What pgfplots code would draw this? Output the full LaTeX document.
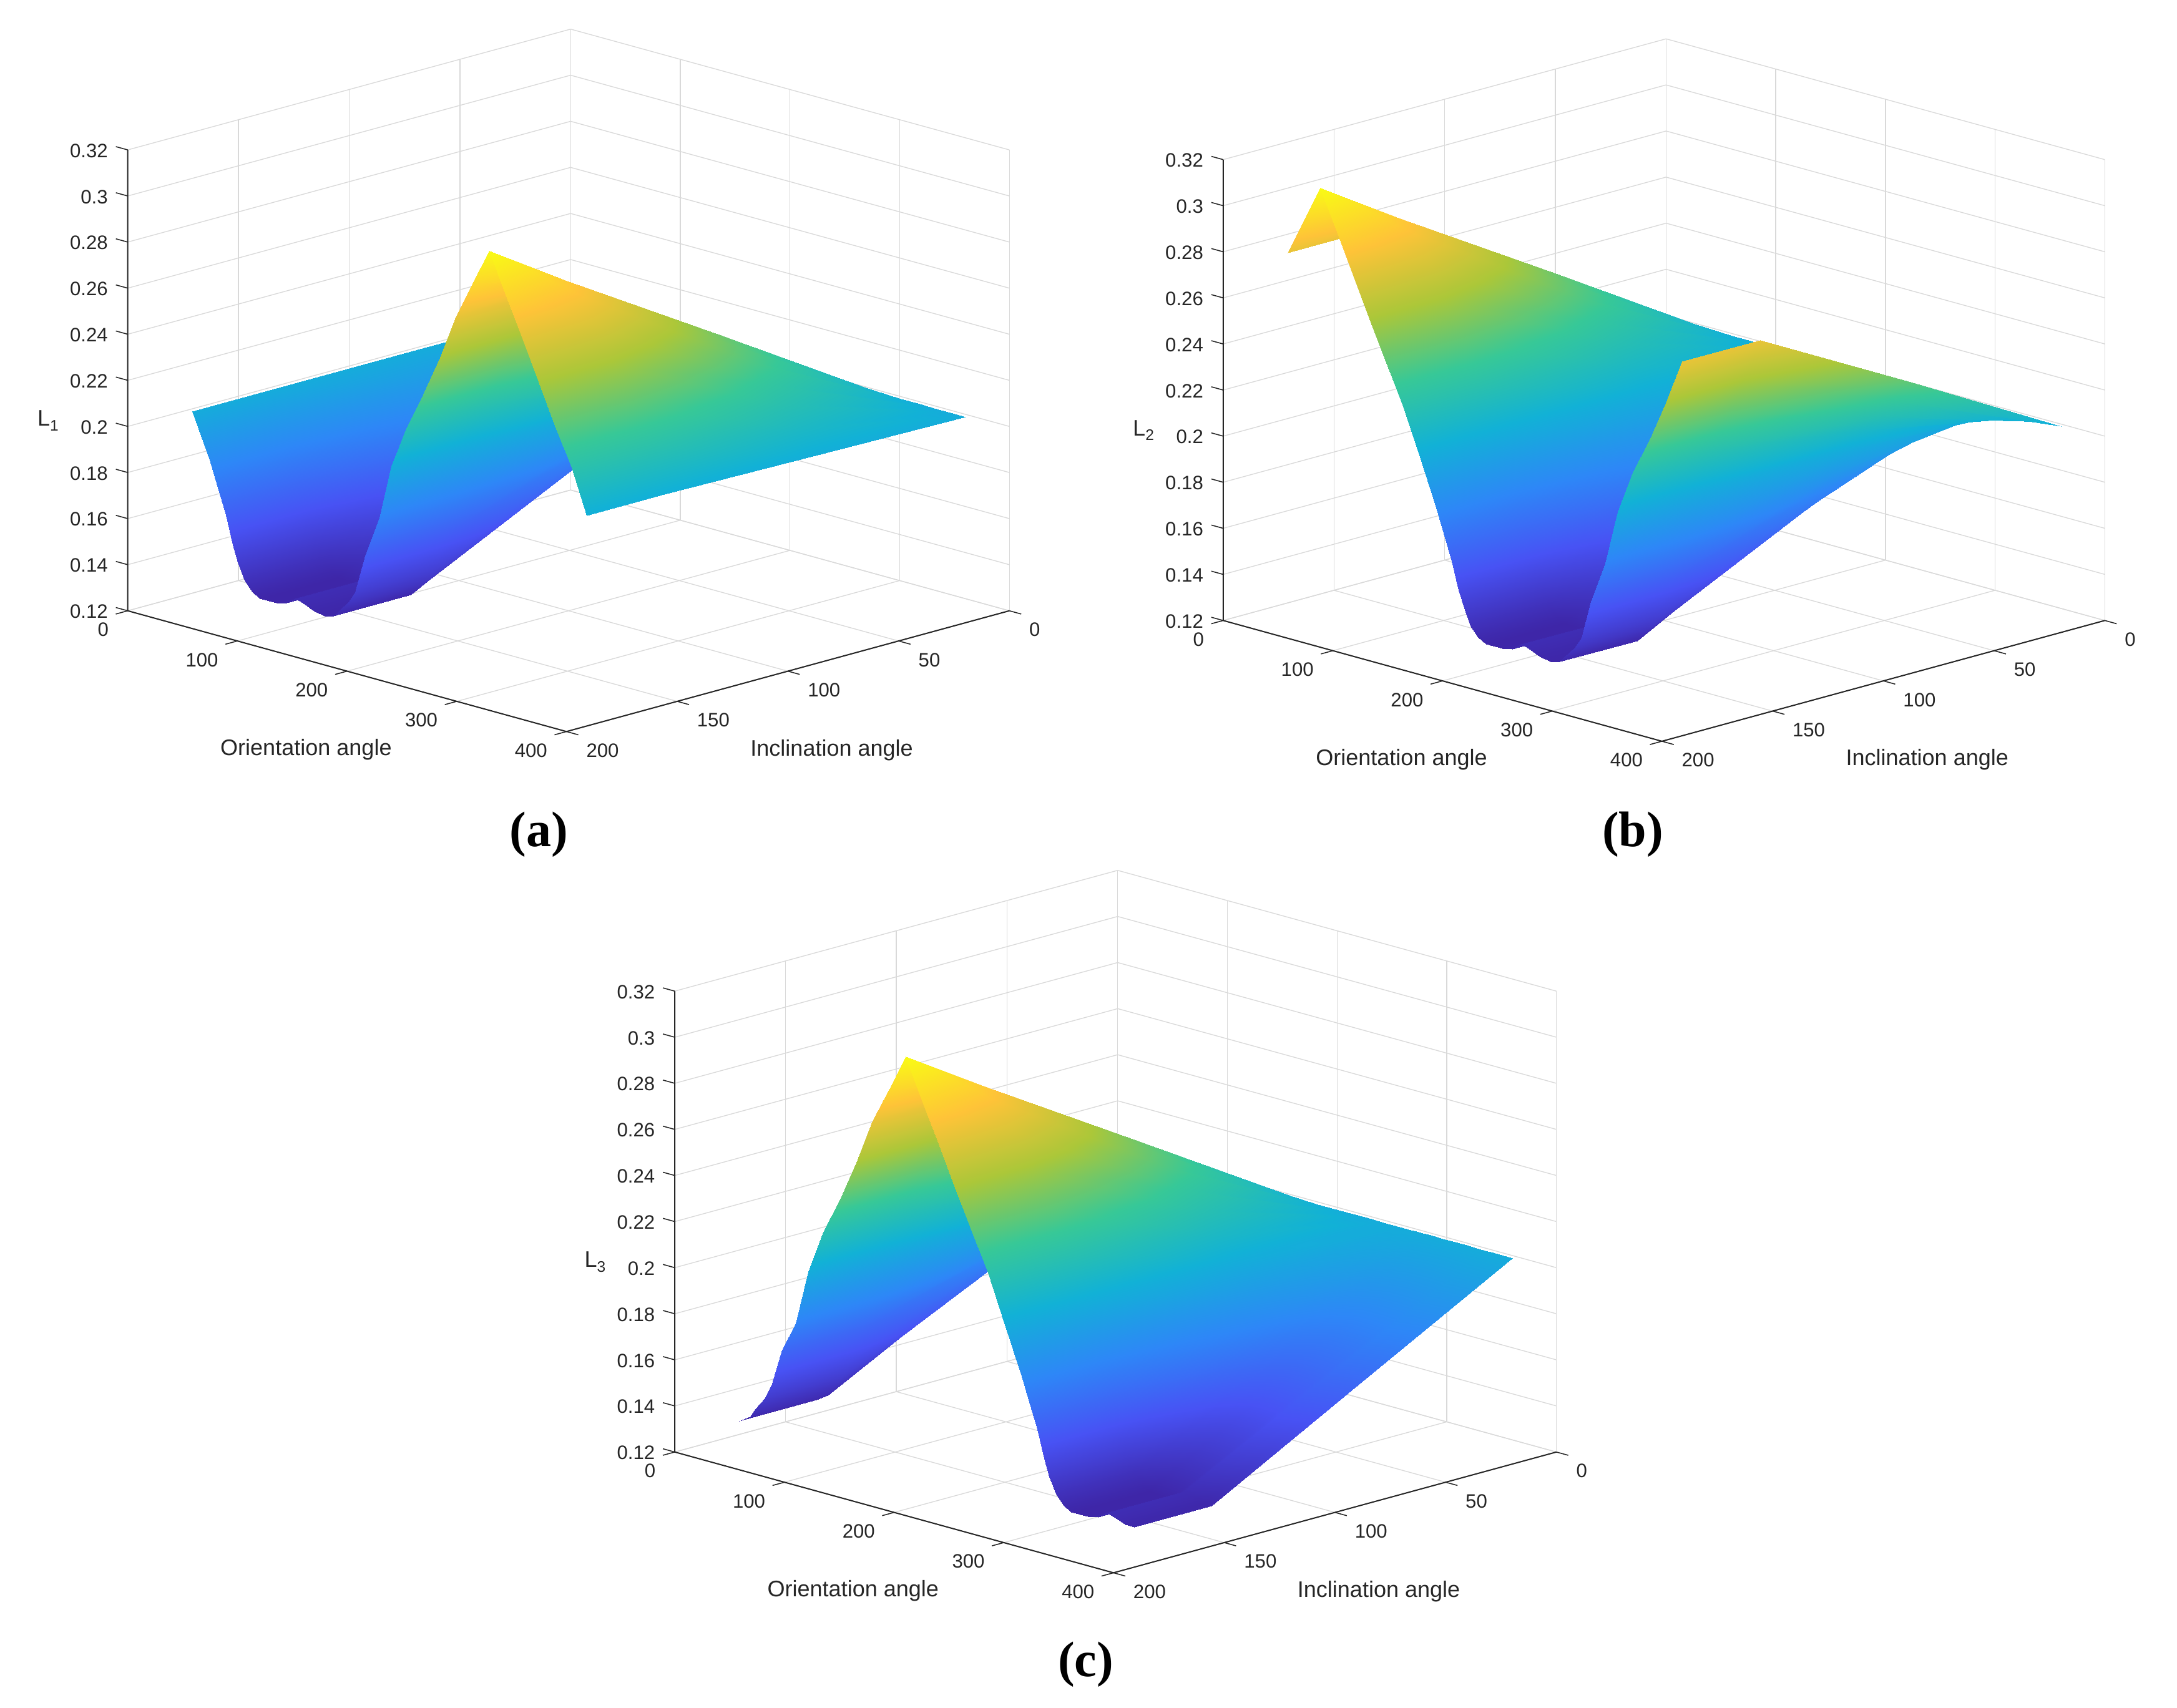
\documentclass[border=0pt]{standalone}
\usepackage{pgfplots}
\usepackage{fontspec}
\setmainfont{Liberation Sans}
\newfontfamily\capfont{Liberation Serif}
\pgfplotsset{compat=1.18}
\definecolor{axdark}{rgb}{0.15,0.15,0.15}
\pgfplotsset{
  panel/.style={
    x={(0.395pt,-0.10875pt)}, y={(0.7975pt,0.2175pt)}, z={(0pt,830pt)},
    y dir=reverse,
    xmin=0,xmax=400,ymin=0,ymax=200,zmin=0.12,zmax=0.32,
    clip=false,
    anchor=south west,
    axis line style={draw=none},
    grid=major,
    grid style={draw=black!15,line width=0.3pt},
    tick style={draw=none},
    major tick length=3pt,
    tick align=outside,
    tick pos=left,
    ticklabel style={font=\fontsize{7}{8}\selectfont,text=axdark},
    xticklabel style={anchor=north east,xshift=-0.5pt,yshift=0pt},
    yticklabel style={anchor=north west,xshift=0.75pt,yshift=0pt},
    zticklabel style={xshift=-0.75pt,yshift=0.5pt},
    label style={font=\fontsize{8.1}{9}\selectfont,text=axdark},
    xtick={0,100,200,300,400},xticklabels={0,100,200,300,400},
    ytick={0,50,100,150,200},yticklabels={0,50,100,150,200},
    ztick={0.12,0.14,0.16,0.18,0.2,0.22,0.24,0.26,0.28,0.3,0.32},
    zticklabels={0.12,0.14,0.16,0.18,0.2,0.22,0.24,0.26,0.28,0.3,0.32},
    xlabel={Orientation angle},ylabel={Inclination angle},
    xlabel style={at={(axis cs:312,274,0.12)},anchor=center,sloped=false,rotate=0},
    ylabel style={at={(axis cs:551,155,0.12)},anchor=center,sloped=false,rotate=0},
    zlabel style={at={(axis cs:0,236,0.212)},anchor=center,rotate=-90,sloped=false},
    colormap={parula}{
      rgb=(0.2422,0.1504,0.6603) rgb=(0.2810,0.3228,0.9579)
      rgb=(0.1786,0.5289,0.9682) rgb=(0.0689,0.6948,0.8394)
      rgb=(0.2161,0.7843,0.5923) rgb=(0.6720,0.7793,0.2227)
      rgb=(0.9970,0.7659,0.2199) rgb=(0.9769,0.9839,0.0805)},
  },
  % data run towards the viewer in x and y, so plain order paints correctly
  surfstyle/.style={surf,shader=interp,z buffer=none,mesh/ordering=y varies,mesh/rows=4,mesh/cols=34},
}
% front axis lines and MATLAB style ticks
\newcommand{\frontaxes}{
  \draw[axdark,line width=0.45pt] (axis cs:0,200,0.32)--(axis cs:0,200,0.12)--(axis cs:400,200,0.12)--(axis cs:400,0,0.12);
  \pgfplotsinvokeforeach{0,100,200,300,400}{
    \draw[axdark,line width=0.35pt] (axis cs:##1,200,0.12)--(axis cs:##1,205.4,0.12);
  }
  \pgfplotsinvokeforeach{0,50,100,150,200}{
    \draw[axdark,line width=0.35pt] (axis cs:400,##1,0.12)--(axis cs:410.8,##1,0.12);
  }
  \pgfplotsinvokeforeach{0.12,0.14,0.16,0.18,0.2,0.22,0.24,0.26,0.28,0.3,0.32}{
    \draw[axdark,line width=0.35pt] (axis cs:0,200,##1)--(axis cs:-10.8,200,##1);
  }
}
\newcommand{\sublab}[1]{L\raisebox{-0.4ex}{\fontsize{5.5}{6}\selectfont #1}}
\begin{document}
\begin{tikzpicture}
\path[use as bounding box] (0pt,0pt) rectangle (784pt,615pt);

\begin{axis}[panel,at={(46pt,351.5pt)},zlabel={\sublab{1}}]
\addplot3[surfstyle] coordinates {
(0,0,.199) (0,68,.199) (0,136,.199) (0,171,.199)
(16,0,.199) (16,68,.19) (16,136,.18) (16,171,.18)
(24,0,.199) (24,68,.184) (24,136,.168) (24,171,.168)
(31,0,.199) (31,68,.179) (31,136,.158) (31,171,.158)
(37,0,.199) (37,68,.173) (37,136,.146) (37,171,.146)
(42,0,.199) (42,68,.169) (42,136,.139) (42,171,.139)
(48,0,.199) (48,68,.166) (48,136,.132) (48,171,.132)
(55,0,.199) (55,68,.164) (55,136,.128) (55,171,.128)
(62,0,.199) (62,68,.163) (62,136,.126) (62,171,.126)
(77,0,.199) (77,68,.163) (77,136,.126) (77,171,.126)
(86,0,.199) (86,68,.163) (86,136,.127) (86,171,.127)
(94,0,.199) (94,68,.165) (94,136,.13) (94,171,.13)
(101,0,.199) (101,68,.164) (101,136,.129) (101,171,.129)
(111,0,.199) (111,68,.163) (111,136,.127) (111,171,.127)
(122,0,.199) (122,68,.163) (122,136,.126) (122,171,.126)
(129,0,.199) (129,68,.163) (129,136,.127) (129,171,.127)
(134,0,.199) (134,68,.165) (134,136,.13) (134,171,.13)
(143,0,.199) (143,68,.167) (143,136,.135) (143,171,.135)
(149,0,.199) (149,68,.17) (149,136,.14) (149,171,.14)
(158,0,.199) (158,68,.178) (158,136,.157) (158,171,.157)
(171,0,.199) (171,68,.187) (171,136,.175) (171,171,.175)
(182,0,.199) (182,68,.199) (182,136,.199) (182,171,.199)
(196,0,.199) (196,68,.209) (196,136,.218) (196,171,.218)
(211,0,.199) (211,68,.217) (211,136,.234) (211,171,.234)
(226,0,.199) (226,68,.226) (226,136,.252) (226,171,.252)
(241,0,.199) (241,68,.236) (241,136,.272) (241,171,.272)
(256,0,.199) (256,68,.24) (256,136,.28) (256,171,.288)
(271,0,.199) (271,68,.241) (271,136,.282) (271,171,.304)
(286,0,.199) (286,68,.238) (286,136,.277) (286,171,.287)
(301,0,.199) (301,68,.233) (301,136,.266) (301,171,.27)
(316,0,.199) (316,68,.225) (316,136,.251) (316,171,.253)
(331,0,.199) (331,68,.218) (331,136,.236) (331,171,.236)
(346,0,.199) (346,68,.21) (346,136,.22) (346,171,.22)
(360,0,.199) (360,68,.2) (360,136,.201) (360,171,.201)
};
\frontaxes
\end{axis}

\begin{axis}[panel,at={(440.5pt,348pt)},zlabel={\sublab{2}}]
\addplot3[surfstyle] coordinates {
(0,0,.199) (0,68,.236) (0,136,.272) (0,171,.272)
(15,0,.199) (15,68,.24) (15,136,.28) (15,171,.288)
(30,0,.199) (30,68,.241) (30,136,.282) (30,171,.304)
(45,0,.199) (45,68,.238) (45,136,.277) (45,171,.287)
(60,0,.199) (60,68,.233) (60,136,.266) (60,171,.27)
(75,0,.199) (75,68,.225) (75,136,.251) (75,171,.253)
(90,0,.199) (90,68,.218) (90,136,.236) (90,171,.236)
(105,0,.199) (105,68,.21) (105,136,.22) (105,171,.22)
(120,0,.199) (120,68,.2) (120,136,.2) (120,171,.2)
(135,0,.199) (135,68,.19) (135,136,.18) (135,171,.18)
(143,0,.199) (143,68,.184) (143,136,.168) (143,171,.168)
(150,0,.199) (150,68,.179) (150,136,.158) (150,171,.158)
(156,0,.199) (156,68,.173) (156,136,.146) (156,171,.146)
(161,0,.199) (161,68,.169) (161,136,.139) (161,171,.139)
(167,0,.199) (167,68,.166) (167,136,.132) (167,171,.132)
(174,0,.199) (174,68,.164) (174,136,.128) (174,171,.128)
(181,0,.199) (181,68,.163) (181,136,.126) (181,171,.126)
(196,0,.199) (196,68,.163) (196,136,.126) (196,171,.126)
(205,0,.199) (205,68,.163) (205,136,.127) (205,171,.127)
(213,0,.199) (213,68,.165) (213,136,.13) (213,171,.13)
(220,0,.199) (220,68,.164) (220,136,.129) (220,171,.129)
(230,0,.199) (230,68,.163) (230,136,.127) (230,171,.127)
(241,0,.199) (241,68,.163) (241,136,.126) (241,171,.126)
(248,0,.199) (248,68,.163) (248,136,.127) (248,171,.127)
(253,0,.199) (253,68,.165) (253,136,.13) (253,171,.13)
(262,0,.199) (262,68,.167) (262,136,.135) (262,171,.135)
(268,0,.199) (268,68,.17) (268,136,.14) (268,171,.14)
(277,0,.199) (277,68,.178) (277,136,.157) (277,171,.157)
(290,0,.199) (290,68,.187) (290,136,.175) (290,171,.175)
(301,0,.199) (301,68,.199) (301,136,.199) (301,171,.199)
(315,0,.199) (315,68,.209) (315,136,.218) (315,171,.218)
(330,0,.199) (330,68,.217) (330,136,.234) (330,171,.234)
(345,0,.199) (345,68,.226) (345,136,.252) (345,171,.252)
(360,0,.199) (360,68,.236) (360,136,.272) (360,171,.272)
};
\frontaxes
\end{axis}

\begin{axis}[panel,at={(243pt,48.5pt)},zlabel={\sublab{3}}]
\addplot3[surfstyle] coordinates {
(0,0,.199) (0,68,.163) (0,136,.126) (0,171,.126)
(10,0,.199) (10,68,.164) (10,136,.129) (10,171,.129)
(15,0,.199) (15,68,.166) (15,136,.133) (15,171,.133)
(24,0,.199) (24,68,.169) (24,136,.139) (24,171,.139)
(30,0,.199) (30,68,.173) (30,136,.146) (30,171,.146)
(39,0,.199) (39,68,.18) (39,136,.162) (39,171,.162)
(52,0,.199) (52,68,.187) (52,136,.175) (52,171,.175)
(63,0,.199) (63,68,.199) (63,136,.199) (63,171,.199)
(77,0,.199) (77,68,.209) (77,136,.218) (77,171,.218)
(92,0,.199) (92,68,.217) (92,136,.234) (92,171,.234)
(107,0,.199) (107,68,.226) (107,136,.252) (107,171,.252)
(122,0,.199) (122,68,.236) (122,136,.272) (122,171,.272)
(137,0,.199) (137,68,.24) (137,136,.28) (137,171,.288)
(152,0,.199) (152,68,.241) (152,136,.282) (152,171,.304)
(167,0,.199) (167,68,.238) (167,136,.277) (167,171,.287)
(182,0,.199) (182,68,.233) (182,136,.266) (182,171,.27)
(197,0,.199) (197,68,.225) (197,136,.251) (197,171,.253)
(212,0,.199) (212,68,.218) (212,136,.236) (212,171,.236)
(227,0,.199) (227,68,.21) (227,136,.22) (227,171,.22)
(242,0,.199) (242,68,.2) (242,136,.2) (242,171,.2)
(257,0,.199) (257,68,.19) (257,136,.18) (257,171,.18)
(265,0,.199) (265,68,.184) (265,136,.168) (265,171,.168)
(272,0,.199) (272,68,.179) (272,136,.158) (272,171,.158)
(278,0,.199) (278,68,.173) (278,136,.146) (278,171,.146)
(283,0,.199) (283,68,.169) (283,136,.139) (283,171,.139)
(289,0,.199) (289,68,.166) (289,136,.132) (289,171,.132)
(296,0,.199) (296,68,.164) (296,136,.128) (296,171,.128)
(303,0,.199) (303,68,.163) (303,136,.126) (303,171,.126)
(318,0,.199) (318,68,.163) (318,136,.126) (318,171,.126)
(327,0,.199) (327,68,.163) (327,136,.127) (327,171,.127)
(335,0,.199) (335,68,.165) (335,136,.13) (335,171,.13)
(342,0,.199) (342,68,.164) (342,136,.129) (342,171,.129)
(352,0,.199) (352,68,.163) (352,136,.127) (352,171,.127)
(360,0,.199) (360,68,.163) (360,136,.127) (360,171,.127)
};
\frontaxes
\end{axis}

\node[font=\capfont\bfseries\fontsize{18}{20}\selectfont] at (194pt,314.5pt) {(a)};
\node[font=\capfont\bfseries\fontsize{18}{20}\selectfont] at (588pt,314.5pt) {(b)};
\node[font=\capfont\bfseries\fontsize{18}{20}\selectfont] at (391pt,15.5pt) {(c)};
\end{tikzpicture}
\end{document}
